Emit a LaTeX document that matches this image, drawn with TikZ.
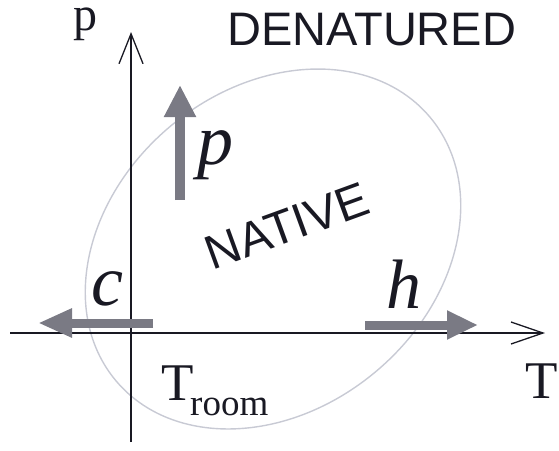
\documentclass[tikz,border=0pt]{standalone}
\usepackage{fontspec}
\setmainfont{Liberation Serif}
\newfontfamily\sansfam{Liberation Sans}
\usetikzlibrary{arrows.meta}
\definecolor{ink}{RGB}{25,25,35}
\definecolor{arrgray}{RGB}{122,122,132}
\definecolor{ovalgray}{RGB}{200,202,212}
\tikzset{
  axis/.style={draw=ink, line width=1.3pt},
  fat/.style={draw=arrgray, line width=9pt, line cap=butt},
  lbl/.style={inner sep=0pt, anchor=base, text=ink},
}
\begin{document}
\begin{tikzpicture}[x=1pt, y=-1pt]
\useasboundingbox (0,0) rectangle (559,450);
% oval
\draw[ovalgray, line width=1.4pt, shift={(273,249)}, rotate=40] (0,0) ellipse [x radius=205, y radius=160];
% axes
\coordinate (yb) at (131,442);
\coordinate (yt) at (131,32);
\coordinate (xl) at (10,333);
\coordinate (xr) at (545,333);
\draw[axis, -{Straight Barb[length=30pt, width=24pt, line width=1.3pt]}] (yb) -- (yt);
\draw[axis, -{Straight Barb[length=32pt, width=22pt, line width=1.3pt]}] (xl) -- (xr);
% fat arrows
\coordinate (pa) at (180,200);
\coordinate (pb) at (180,85);
\coordinate (ca) at (153,323);
\coordinate (cb) at (38,323);
\coordinate (ha) at (365,325);
\coordinate (hb) at (478,325);
\draw[fat, line width=10pt, -{Triangle[length=32pt, width=30pt]}] (pa) -- (pb);
\draw[fat, -{Triangle[length=34pt, width=27pt]}] (ca) -- (cb);
\draw[fat, -{Triangle[length=31pt, width=27pt]}] (ha) -- (hb);
% labels
\node[lbl, font=\fontsize{48}{48}\selectfont] (plab) at (85,30) {p};
\node[lbl, font=\fontsize{53}{53}\selectfont] (tlab) at (542,398) {T};
\node[lbl, font=\fontsize{53}{53}\selectfont] (troom) at (178,400) {T};
\node[lbl, anchor=base west, font=\fontsize{37}{37}\selectfont] (room) at (190,415) {room};
\node[lbl, anchor=base west, font=\sansfam\fontsize{47}{47}\selectfont] (den) at (227,45) {DENATURED};
\node[lbl, anchor=center, rotate=20, font=\sansfam\fontsize{48}{48}\selectfont] (nat) at (287,226) {NATIVE};
\node[lbl, font=\fontsize{72}{72}\selectfont\itshape] (pit) at (215,164) {p};
\node[lbl, font=\fontsize{72}{72}\selectfont\itshape] (cit) at (107,305) {c};
\node[lbl, font=\fontsize{70}{70}\selectfont\itshape] (hit) at (404,308) {h};
\end{tikzpicture}
\end{document}
